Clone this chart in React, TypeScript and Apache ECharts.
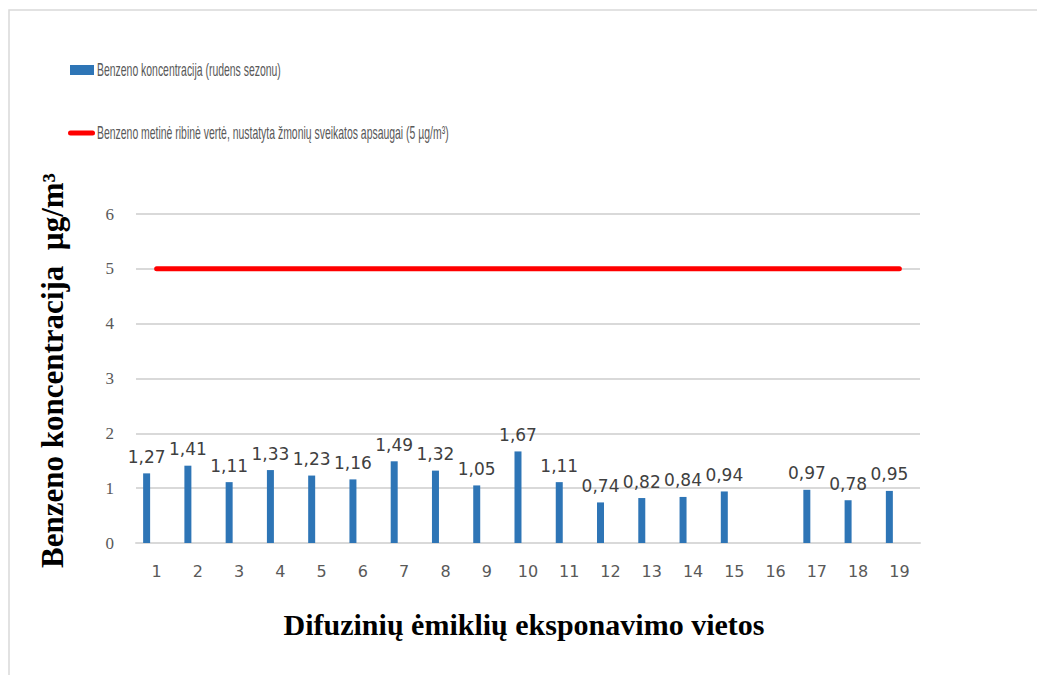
import React, { useEffect, useRef } from "react";
import * as echarts from "echarts";

const categories = ["1","2","3","4","5","6","7","8","9","10","11","12","13","14","15","16","17","18","19"];
const benzeneValues: (number | null)[] = [1.27,1.41,1.11,1.33,1.23,1.16,1.49,1.32,1.05,1.67,1.11,0.74,0.82,0.84,0.94,null,0.97,0.78,0.95];
const limitValues = [5,5,5,5,5,5,5,5,5,5,5,5,5,5,5,5,5,5,5];
const barName = "Benzeno koncentracija (rudens sezonu)";
const lineName = "Benzeno metinė ribinė vertė, nustatyta žmonių sveikatos apsaugai (5 µg/m³)";
const yAxisName = "Benzeno koncentracija  µg/m³";
const xAxisName = "Difuzinių ėmiklių eksponavimo vietos";

const legendFont = "18px 'Liberation Sans', Arial, sans-serif";

export default function App() {
  const ref = useRef<HTMLDivElement>(null);
  useEffect(() => {
    if (!ref.current) return;
    const chart = echarts.init(ref.current, null, { renderer: "svg" });
    chart.setOption({
      animation: false,
      backgroundColor: "#ffffff",
      graphic: [
        {
          type: "rect",
          shape: { x: 9, y: 10, width: 1040, height: 680 },
          style: { fill: "none", stroke: "#d9d9d9", lineWidth: 1.5 },
          silent: true,
        },
        {
          type: "text",
          x: 97,
          y: 70,
          scaleX: 0.58,
          silent: true,
          style: { text: barName, font: legendFont, fill: "#595959", verticalAlign: "middle", align: "left" },
        },
        {
          type: "text",
          x: 97,
          y: 133,
          scaleX: 0.58,
          silent: true,
          style: { text: lineName, font: legendFont, fill: "#595959", verticalAlign: "middle", align: "left" },
        },
      ],
      legend: [
        {
          left: 70,
          top: 65,
          padding: 0,
          itemWidth: 24,
          itemHeight: 10,
          formatter: () => "",
          data: [{ name: barName, icon: "rect" }],
        },
        {
          left: 68,
          top: 128,
          padding: 0,
          itemWidth: 27,
          itemHeight: 10,
          formatter: () => "",
          data: [{ name: lineName, icon: "path://M2.5,0 H24.5 A2.5,2.5 0 0 1 24.5,5 H2.5 A2.5,2.5 0 0 1 2.5,0 Z" }],
        },
      ],
      grid: { left: 136, right: 117, top: 214, bottom: 132, containLabel: false },
      xAxis: {
        type: "category",
        data: categories,
        name: xAxisName,
        nameLocation: "middle",
        nameGap: 66,
        nameTextStyle: {
          fontFamily: "'Liberation Serif', serif",
          fontWeight: "bold",
          fontSize: 30,
          color: "#000000",
          padding: [0, 8, 0, 0],
        },
        axisLine: { show: true, lineStyle: { color: "#d9d9d9", width: 2 } },
        axisTick: { show: false },
        axisLabel: {
          margin: 20,
          fontFamily: "'DejaVu Sans', sans-serif",
          fontSize: 16,
          color: "#595959",
        },
      },
      yAxis: {
        type: "value",
        min: 0,
        max: 6,
        interval: 1,
        name: yAxisName,
        nameLocation: "middle",
        nameGap: 68,
        nameTextStyle: {
          fontFamily: "'Liberation Serif', serif",
          fontWeight: "bold",
          fontSize: 31,
          color: "#000000",
          padding: [0, 0, 0, 16],
        },
        axisLine: { show: false },
        axisTick: { show: false },
        splitLine: { lineStyle: { color: "#d9d9d9", width: 2 } },
        axisLabel: {
          margin: 22,
          fontFamily: "'Liberation Serif', serif",
          fontSize: 17,
          color: "#595959",
        },
      },
      series: [
        {
          name: barName,
          type: "bar",
          data: benzeneValues,
          barWidth: 7,
          barGap: "186%",
          itemStyle: { color: "#2e75b6" },
          label: {
            show: true,
            position: "top",
            distance: 8,
            fontFamily: "'DejaVu Sans', sans-serif",
            fontSize: 17,
            color: "#404040",
            formatter: (p: any) => (p.value == null ? "" : String(p.value.toFixed(2)).replace(".", ",")),
          },
        },
        {
          name: "_dummy",
          type: "bar",
          data: categories.map(() => null),
          barWidth: 7,
          itemStyle: { color: "transparent" },
        },
        {
          name: lineName,
          type: "line",
          data: limitValues,
          symbol: "none",
          lineStyle: { color: "#ff0000", width: 5, cap: "round" },
          itemStyle: { color: "#ff0000" },
        },
      ],
    });
    return () => chart.dispose();
  }, []);
  return (
    <div
      ref={ref}
      style={{ position: "absolute", left: 0, top: 0, width: 1037, height: 675 }}
    />
  );
}
